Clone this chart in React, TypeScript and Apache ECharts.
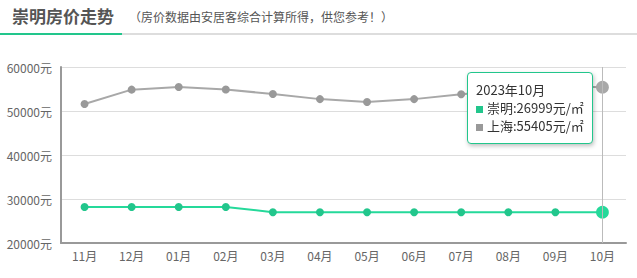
import React, { useEffect, useRef } from "react";
import * as echarts from "echarts";

const months = ["11月", "12月", "01月", "02月", "03月", "04月", "05月", "06月", "07月", "08月", "09月", "10月"];
const fullMonths = ["2022年11月", "2022年12月", "2023年01月", "2023年02月", "2023年03月", "2023年04月", "2023年05月", "2023年06月", "2023年07月", "2023年08月", "2023年09月", "2023年10月"];
const chongming = [28200, 28200, 28200, 28200, 26999, 26999, 26999, 26999, 26999, 26999, 26999, 26999];
const shanghai = [51600, 54850, 55450, 54900, 53860, 52700, 52050, 52700, 53800, 54700, 55700, 55405];

const GREEN = "#22c68c";
const GRAY = "#999999";

export default function App() {
  const ref = useRef<HTMLDivElement>(null);
  useEffect(() => {
    const chart = echarts.init(ref.current!, null, { renderer: "svg" });
    chart.setOption({
      animation: false,
      textStyle: { fontFamily: "'Noto Sans CJK SC', 'Noto Sans', sans-serif" },
      graphic: [
        {
          type: "text",
          left: 12,
          top: 7,
          style: { text: "崇明房价走势", fontSize: 17, fontWeight: "bold", fill: "#555", fontFamily: "'Noto Sans CJK SC', sans-serif" },
        },
        {
          type: "text",
          left: 129,
          top: 10,
          style: { text: "（房价数据由安居客综合计算所得，供您参考！）", fontSize: 12, fill: "#555", fontFamily: "'Noto Sans CJK SC', sans-serif" },
        },
        { type: "rect", left: 0, top: 33, shape: { width: 637, height: 2 }, style: { fill: "#dddddd" } },
        { type: "rect", left: 0, top: 33, shape: { width: 122, height: 2 }, style: { fill: GREEN } },
      ],
      grid: { left: 61, right: 11, top: 67, bottom: 35 },
      tooltip: {
        trigger: "axis",
        alwaysShowContent: true,
        position: [467, 72],
        backgroundColor: "#fff",
        borderColor: GREEN,
        borderWidth: 1,
        borderRadius: 4,
        padding: [8, 8],
        textStyle: { fontSize: 13, color: "#333", fontFamily: "'Noto Sans CJK SC', sans-serif" },
        extraCssText: "box-shadow: 1px 2px 4px rgba(0,0,0,0.25); line-height:18px;",
        axisPointer: { type: "line", lineStyle: { color: "#bbb", width: 1, type: "solid" } },
        formatter: (params: any) => {
          const p = Array.isArray(params) ? params : [params];
          const idx = p[0].dataIndex;
          let s = fullMonths[idx];
          p.forEach((it: any) => {
            s += `<br/><span style="display:inline-block;width:7px;height:7px;margin-right:4px;background:${it.color};vertical-align:middle"></span>${it.seriesName}:${it.value}元/㎡`;
          });
          return s;
        },
      },
      xAxis: {
        type: "category",
        data: months,
        boundaryGap: true,
        axisLine: { lineStyle: { color: "#999", width: 2 } },
        axisTick: { alignWithLabel: true, length: 4, lineStyle: { color: "#ccc" } },
        axisLabel: { color: "#666", fontSize: 12, margin: 6 },
      },
      yAxis: {
        type: "value",
        min: 20000,
        max: 60000,
        interval: 10000,
        axisLine: { show: true, lineStyle: { color: "#999", width: 2 } },
        axisTick: { show: false },
        axisLabel: { color: "#666", fontSize: 12, margin: 9, formatter: (v: number) => `${v}元` },
        splitLine: { lineStyle: { color: "#ddd" } },
      },
      series: [
        {
          name: "崇明",
          type: "line",
          data: chongming,
          symbol: "circle",
          symbolSize: 8,
          itemStyle: { color: GREEN },
          lineStyle: { color: GREEN, width: 2 },
          emphasis: { scale: 1.6 },
        },
        {
          name: "上海",
          type: "line",
          data: shanghai,
          symbol: "circle",
          symbolSize: 8,
          itemStyle: { color: GRAY },
          lineStyle: { color: GRAY, width: 2 },
          emphasis: { scale: 1.6 },
        },
      ],
    });
    chart.dispatchAction({ type: "showTip", seriesIndex: 0, dataIndex: 11 });
    return () => chart.dispose();
  }, []);
  return <div ref={ref} style={{ position: "absolute", left: 0, top: 0, width: 637, height: 278 }} />;
}
